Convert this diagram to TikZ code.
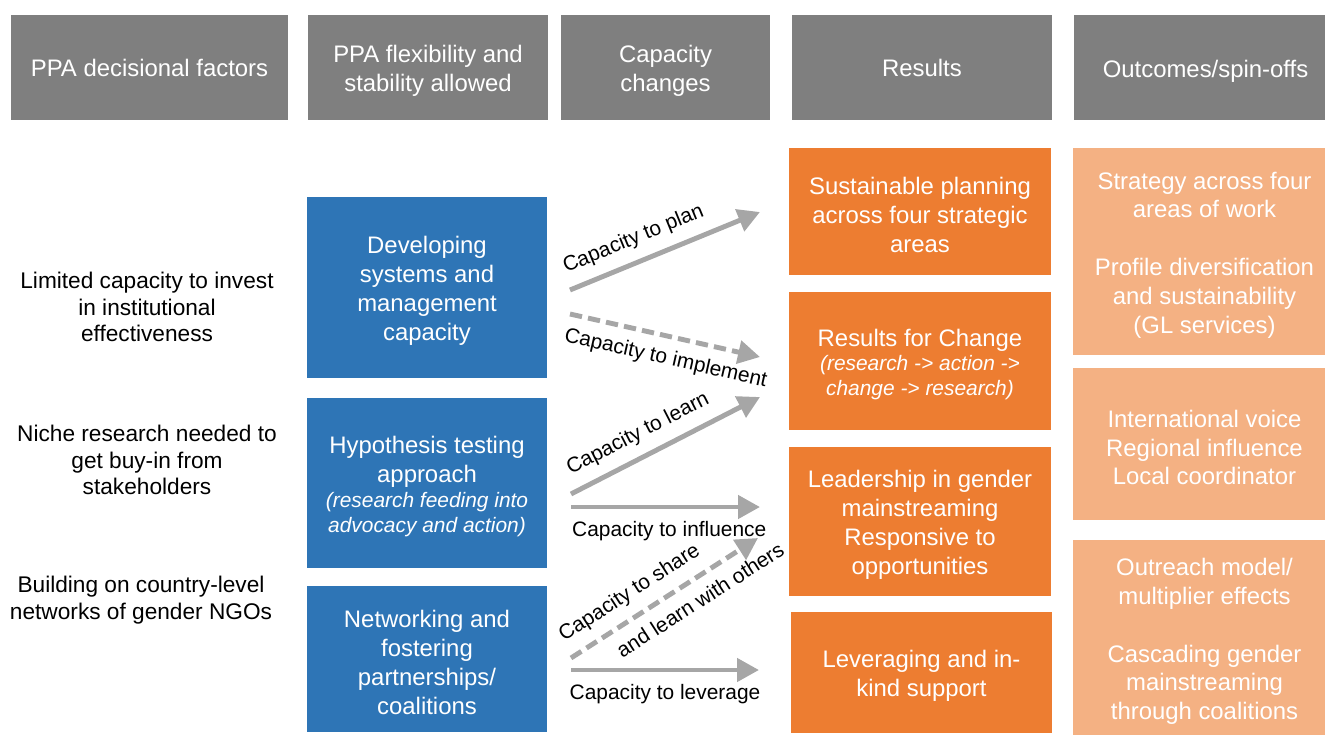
\documentclass[tikz,border=0pt]{standalone}
\usepackage{fontspec}
\setmainfont{Liberation Sans}
\usetikzlibrary{arrows.meta}

\definecolor{hdrgray}{HTML}{7F7F7F}
\definecolor{boxblue}{HTML}{2E75B6}
\definecolor{boxorange}{HTML}{ED7D31}
\definecolor{boxpeach}{HTML}{F4B183}
\definecolor{arrgray}{HTML}{A6A6A6}

\newcommand{\bigtxt}{\fontsize{13.6}{16.4}\selectfont}
\newcommand{\sidetxt}{\fontsize{12.9}{15.3}\selectfont}
\newcommand{\captxt}{\fontsize{11.9}{14.2}\selectfont}
\newcommand{\notetxt}{\fontsize{11.9}{14.2}\selectfont\itshape}
\newcommand{\topstrut}{\rule{0pt}{13.8pt}}

\begin{document}
\begin{tikzpicture}[x=0.02cm,y=-0.02cm,
  card/.style={align=center,font=\bigtxt,text=white,inner sep=1pt,outer sep=0pt},
  hdr/.style={card,fill=hdrgray,minimum height=2.1cm},
  blue/.style={card,fill=boxblue,minimum width=4.8cm},
  orange/.style={card,fill=boxorange,minimum width=5.24cm},
  peach/.style={card,fill=boxpeach,minimum width=5.26cm},
  side/.style={align=center,font=\sidetxt,text=black,inner sep=1pt},
  arr/.style={arrgray,line width=2.8pt,-{Triangle[length=12.5pt,width=13pt]}},
  dasharr/.style={arr,dash pattern=on 7pt off 3.5pt},
  lbl/.style={font=\captxt,text=black,inner sep=2pt}]

\useasboundingbox (0,0) rectangle (1325,734);

% column heads
\node[hdr,minimum width=5.54cm] (h1) at (149.5,67.5) {PPA decisional factors};
\node[hdr,minimum width=4.8cm] (h2) at (428,67.5) {\topstrut PPA flexibility and\\stability allowed};
\node[hdr,minimum width=4.18cm] (h3) at (665.5,67.5) {\topstrut Capacity\\changes};
\node[hdr,minimum width=5.2cm] (h4) at (922,67.5) {Results};
\node[hdr,minimum width=5.26cm] (h5) at (1205.5,67.5) {\topstrut Outcomes/spin-offs};

% decisional factors
\node[side] (f1) at (147,307) {Limited capacity to invest\\in institutional\\effectiveness};
\node[side] (f2) at (147,460) {Niche research needed to\\get buy-in from\\stakeholders};
\node[side] (f3) at (141,600) {Building on country-level\\networks of gender NGOs};

% flexibility
\node[blue,minimum height=3.62cm] (b1) at (427,287.5) {\topstrut Developing\\systems and\\management\\capacity};
\node[blue,minimum height=3.4cm] (b2) at (427,483) {\topstrut Hypothesis testing\\approach\\[-2.3pt]\notetxt (research feeding into\\[-2.3pt]\notetxt advocacy and action)};
\node[blue,minimum height=2.92cm] (b3) at (427,659) {\topstrut Networking and\\fostering\\partnerships/\\coalitions};

% results
\node[orange,minimum height=2.54cm] (o1) at (920,211.5) {\topstrut Sustainable planning\\across four strategic\\areas};
\node[orange,minimum height=2.76cm] (o2) at (920,361) {\topstrut Results for Change\\[-2.3pt]\notetxt (research -> action ->\\[-2.3pt]\notetxt change -> research)};
\node[orange,minimum height=2.98cm] (o3) at (920,521.5) {\topstrut Leadership in gender\\mainstreaming\\Responsive to\\opportunities};
\node[orange,minimum width=5.22cm,minimum height=2.42cm] (o4) at (921.5,672.5) {\topstrut Leveraging and in-\\kind support};

% outcomes
\node[peach,minimum height=4.14cm] (p1) at (1204.5,251.5) {\topstrut Strategy across four\\areas of work\\[16.4pt]Profile diversification\\and sustainability\\(GL services)};
\node[peach,minimum height=3.04cm] (p2) at (1204.5,444) {\topstrut International voice\\Regional influence\\Local coordinator};
\node[peach,minimum height=3.92cm] (p3) at (1204.5,638) {\topstrut Outreach model/\\multiplier effects\\[16.4pt]Cascading gender\\mainstreaming\\through coalitions};

% capacity arrows
\coordinate (a1s) at (570,290); \coordinate (a1e) at (760,212);
\coordinate (a2s) at (570,314); \coordinate (a2e) at (760,357);
\coordinate (a3s) at (571,494); \coordinate (a3e) at (760,397);
\coordinate (a4s) at (571,507); \coordinate (a4e) at (760,507);
\coordinate (a5s) at (571,658); \coordinate (a5e) at (758,538);
\coordinate (a6s) at (571,670); \coordinate (a6e) at (759,670);

\draw[arr] (a1s) -- node[lbl,sloped,above=4pt,pos=0.38] {Capacity to plan} (a1e);
\draw[dasharr] (a2s) -- node[lbl,sloped,below=4pt,pos=0.53] {Capacity to implement} (a2e);
\draw[arr] (a3s) -- node[lbl,sloped,above=4pt,pos=0.41] {Capacity to learn} (a3e);
\draw[arr] (a4s) -- node[lbl,below=5pt,pos=0.52] {Capacity to influence} (a4e);
\draw[dasharr] (a5s) -- node[lbl,sloped,above=4pt,pos=0.38] {Capacity to share}
  node[lbl,sloped,below=4pt,pos=0.63] {and learn with others} (a5e);
\draw[arr] (a6s) -- node[lbl,below=5pt,pos=0.5] {Capacity to leverage} (a6e);

\end{tikzpicture}
\end{document}
